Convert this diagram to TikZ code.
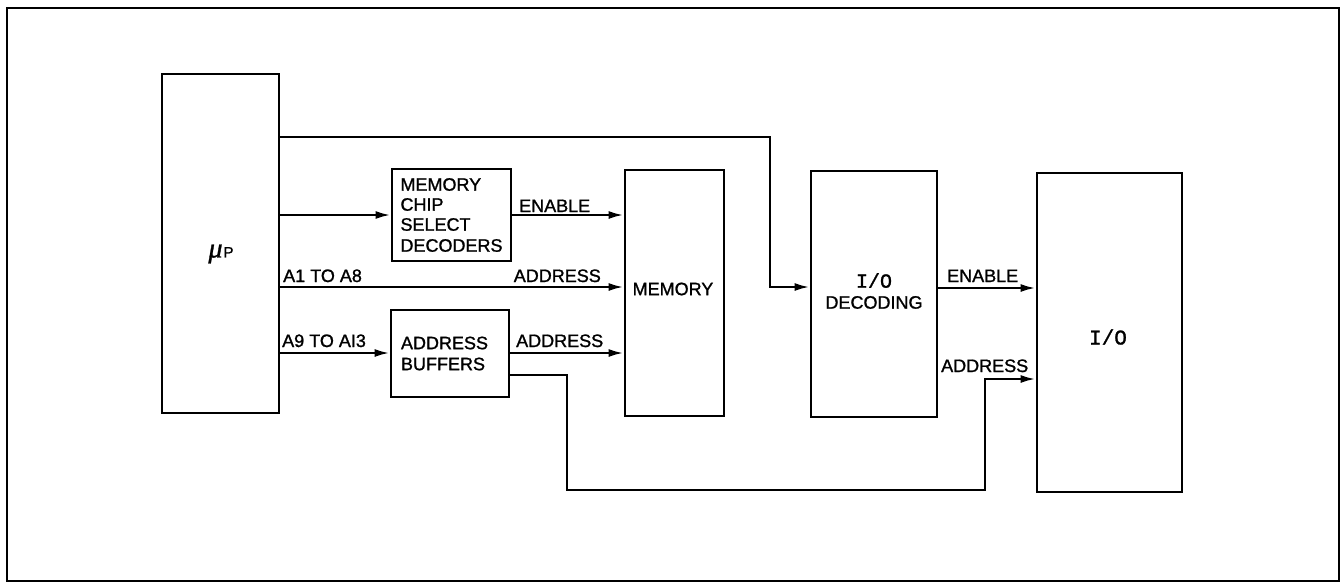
\documentclass[tikz,border=0pt]{standalone}
\usepackage{fontspec}
\setmainfont{Liberation Sans}[RawFeature={embolden=1.2}]
\newfontfamily\iofont{Liberation Mono}[RawFeature={embolden=1.2}]
\newfontfamily\mufont{Liberation Serif}[RawFeature={embolden=1.2}]
\usetikzlibrary{arrows.meta,calc}
\begin{document}
\begin{tikzpicture}[x=1pt,y=-1pt,
  box/.style={draw,line width=2.8pt,rectangle,inner sep=0pt},
  arr/.style={line width=2.4pt,-{Latex[length=15pt,width=8pt]}},
  lbl/.style={inner sep=0pt,font=\fontsize{18}{21}\selectfont},
  every node/.style={font=\fontsize{18}{21}\selectfont}]
\useasboundingbox (0,0) rectangle (1342,584);
\draw[line width=2.4pt] (7,8) rectangle (1339,581);
% boxes
\node[box,minimum width=117pt,minimum height=339pt] (up) at (220.5,243.5) {};
\node[inner sep=0pt] (uplbl) at (221,254) {{\mufont\itshape\fontsize{28}{28}\selectfont μ}\kern1pt{\fontsize{15}{15}\selectfont P}};
\node[box,minimum width=119pt,minimum height=92pt,align=left,text width=102pt] (mcsd) at (451.5,215) {\fontsize{18}{20}\selectfont MEMORY\\CHIP\\SELECT\\DECODERS};
\node[box,minimum width=118pt,minimum height=87pt,align=left,text width=98pt] (ab) at (450,353.5) {\fontsize{18}{22}\selectfont ADDRESS\\BUFFERS};
\node[box,minimum width=99pt,minimum height=246pt] (mem) at (674.5,293) {};
\node[inner sep=0pt] (memlbl) at (673,289) {MEMORY};
\node[box,minimum width=126pt,minimum height=246pt] (iod) at (874,294) {};
\node[inner sep=0pt,align=center] (iodlbl) at (874,291) {{\iofont\fontsize{20}{22}\selectfont I/O}\\DECODING};
\node[box,minimum width=145pt,minimum height=319pt] (io) at (1109.5,332.5) {};
\node[inner sep=0pt] (iolbl) at (1108,337) {\iofont\fontsize{21}{21}\selectfont I/O};
% connectors
\coordinate (c1) at (770,137);
\draw[arr] (up.east |- c1) -- (c1) |- (iod.west |- 0,287);
\draw[arr] (up.east |- mcsd.west) -- (mcsd.west);
\draw[arr] (mcsd.east) -- (mem.west |- mcsd.east);
\draw[arr] (up.east |- 0,287) -- (mem.west |- 0,287);
\draw[arr] (up.east |- 0,353) -- (ab.west |- 0,353);
\draw[arr] (ab.east |- 0,353) -- (mem.west |- 0,353);
\coordinate (c2) at (567,375);
\coordinate (c3) at (985,490);
\draw[arr] (ab.east |- c2) -- (c2) |- (c3) |- (io.west |- 0,379);
\draw[arr] (iod.east |- 0,288) -- (io.west |- 0,288);
% labels
\node[lbl,anchor=base west] (l1) at (519,212) {ENABLE};
\node[lbl,anchor=base west] (l2) at (283,282) {A1 TO A8};
\node[lbl,anchor=base east] (l3) at (601,282) {ADDRESS};
\node[lbl,anchor=base west] (l4) at (282,347) {A9 TO AI3};
\node[lbl,anchor=base west] (l5) at (516,347) {ADDRESS};
\node[lbl,anchor=base west] (l6) at (947,282) {ENABLE};
\node[lbl,anchor=base west] (l7) at (941,372) {ADDRESS};
\end{tikzpicture}
\end{document}
